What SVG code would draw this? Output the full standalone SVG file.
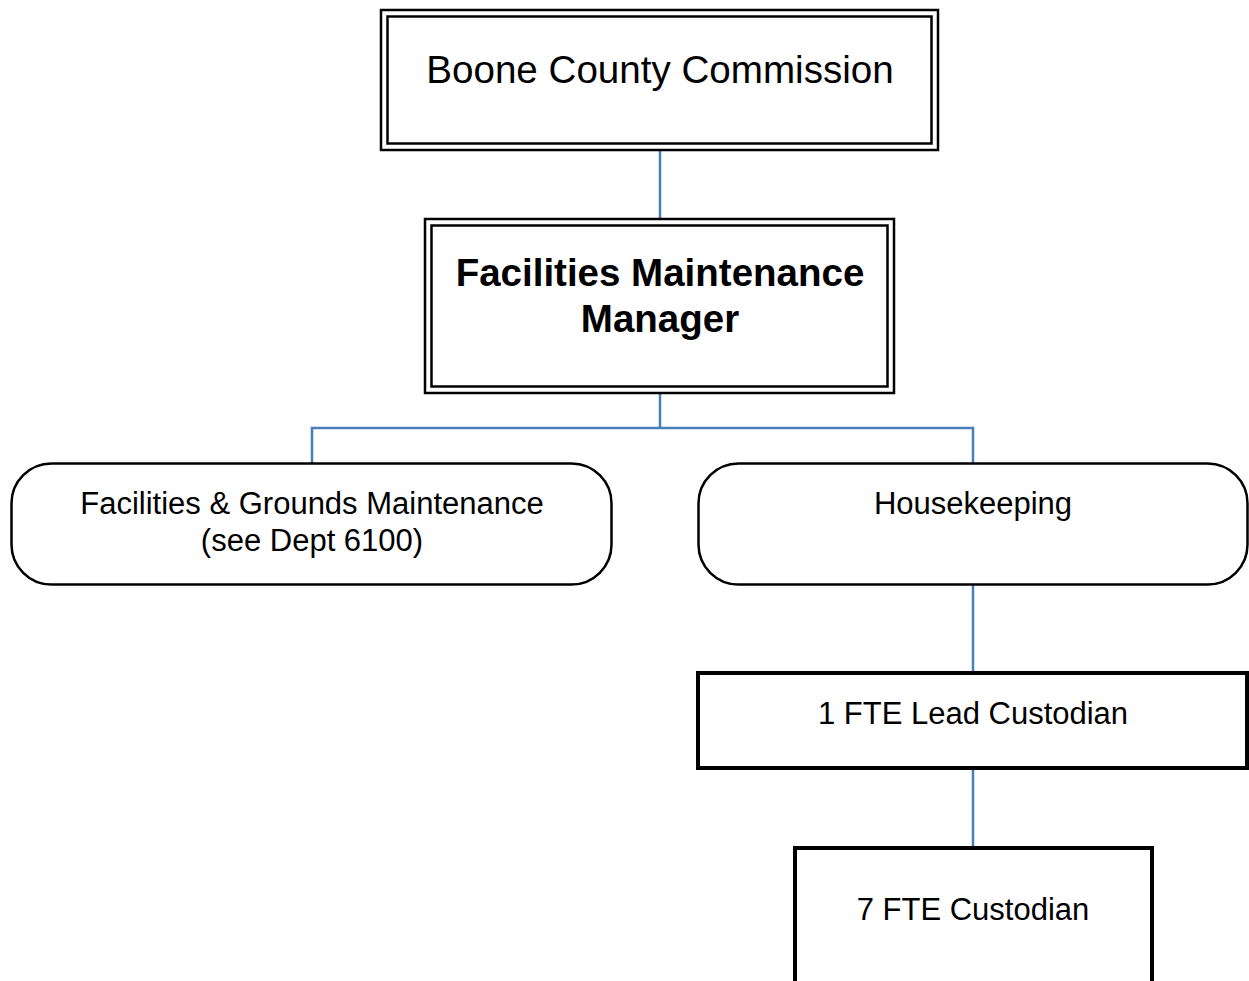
<svg xmlns="http://www.w3.org/2000/svg" width="1249" height="981" viewBox="0 0 1249 981">
<style>
.t{font-family:"Liberation Sans",Arial,sans-serif;fill:#000;text-anchor:middle}
.b{font-weight:bold}
.box{fill:#fff;stroke:#000}
.c{stroke:#4a7ebb;stroke-width:2.5;fill:none}
</style>
<rect width="1249" height="981" fill="#fff"/>
<g id="connectors">
<line class="c" x1="660" y1="151" x2="660" y2="219"/>
<polyline class="c" points="660,394 660,428"/>
<polyline class="c" points="312,463 312,428 973,428 973,463"/>
<line class="c" x1="973" y1="585" x2="973" y2="672"/>
<line class="c" x1="973" y1="769" x2="973" y2="847"/>
</g>
<g id="boone">
<rect class="box" x="381" y="10" width="557" height="140" stroke-width="2.5"/>
<rect class="box" x="387.5" y="16.5" width="544" height="127" stroke-width="2.5"/>
<text class="t" x="660" y="83" font-size="38.6">Boone County Commission</text>
</g>
<g id="manager">
<rect class="box" x="425" y="219" width="469" height="174" stroke-width="2.5"/>
<rect class="box" x="431.5" y="225.5" width="456" height="161" stroke-width="2.5"/>
<text class="t b" x="660" y="286" font-size="38.5">Facilities Maintenance</text>
<text class="t b" x="660" y="332" font-size="38.5">Manager</text>
</g>
<g id="grounds">
<rect class="box" x="11.5" y="463.5" width="600" height="121" rx="40" ry="40" stroke-width="2.5"/>
<text class="t" x="312" y="514" font-size="31">Facilities &amp; Grounds Maintenance</text>
<text class="t" x="312" y="551" font-size="31">(see Dept 6100)</text>
</g>
<g id="housekeeping">
<rect class="box" x="698.5" y="463.5" width="549" height="121" rx="40" ry="40" stroke-width="2.5"/>
<text class="t" x="973" y="514" font-size="31">Housekeeping</text>
</g>
<g id="lead">
<rect class="box" x="698" y="673" width="549" height="95" stroke-width="4"/>
<text class="t" x="973" y="724" font-size="31">1 FTE Lead Custodian</text>
</g>
<g id="custodian">
<rect class="box" x="795" y="848" width="357" height="160" stroke-width="4"/>
<text class="t" x="973" y="920" font-size="31">7 FTE Custodian</text>
</g>
</svg>
